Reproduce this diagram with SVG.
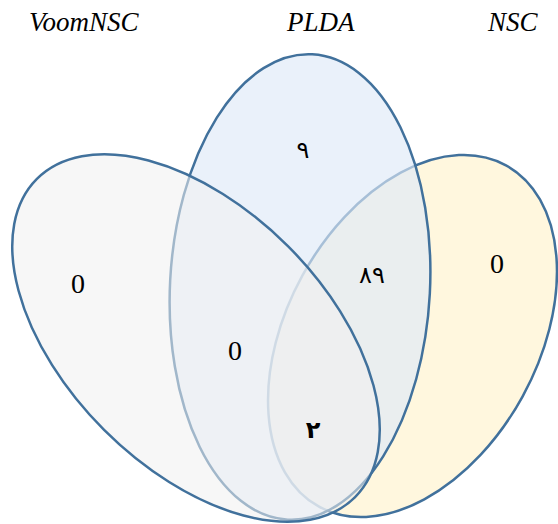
<svg xmlns="http://www.w3.org/2000/svg" width="558" height="524" viewBox="0 0 558 524">
<style>
.set{stroke:#41719c;stroke-width:2.5}
.lbl{font-family:"Liberation Serif","Times New Roman",serif;font-style:italic;font-size:27px;fill:#000}
.num{font-family:"Liberation Serif","Times New Roman",serif;font-size:28px;fill:#000;text-anchor:middle}
.fa{font-family:"DejaVu Sans","Noto Sans",sans-serif;font-size:24px;fill:#000;text-anchor:middle}
</style>
<rect width="558" height="524" fill="#ffffff"/>
<g id="nsc">
<ellipse class="set" cx="412.5" cy="336" rx="194.6" ry="125.6" transform="rotate(-61.3 412.5 336)" fill="#fff2cc" fill-opacity="0.65"/>
</g>
<g id="plda">
<ellipse class="set" cx="300" cy="287" rx="130" ry="233" transform="rotate(3 300 287)" fill="#dfe9f7" fill-opacity="0.65"/>
</g>
<g id="voomnsc">
<ellipse class="set" cx="196" cy="338" rx="225" ry="130" transform="rotate(45 196 338)" fill="#f0f0f0" fill-opacity="0.55"/>
</g>
<g id="labels">
<text class="lbl" x="29" y="31">VoomNSC</text>
<text class="lbl" x="287" y="31">PLDA</text>
<text class="lbl" x="488" y="31">NSC</text>
</g>
<g id="counts">
<text class="num" x="78" y="293">0</text>
<text class="fa" x="303" y="158">۹</text>
<text class="fa" x="372" y="283">۸۹</text>
<text class="num" x="497" y="273">0</text>
<text class="num" x="235" y="360">0</text>
<text class="fa" x="313" y="438" font-weight="bold">۲</text>
</g>
<g id="connectors"/>
</svg>
